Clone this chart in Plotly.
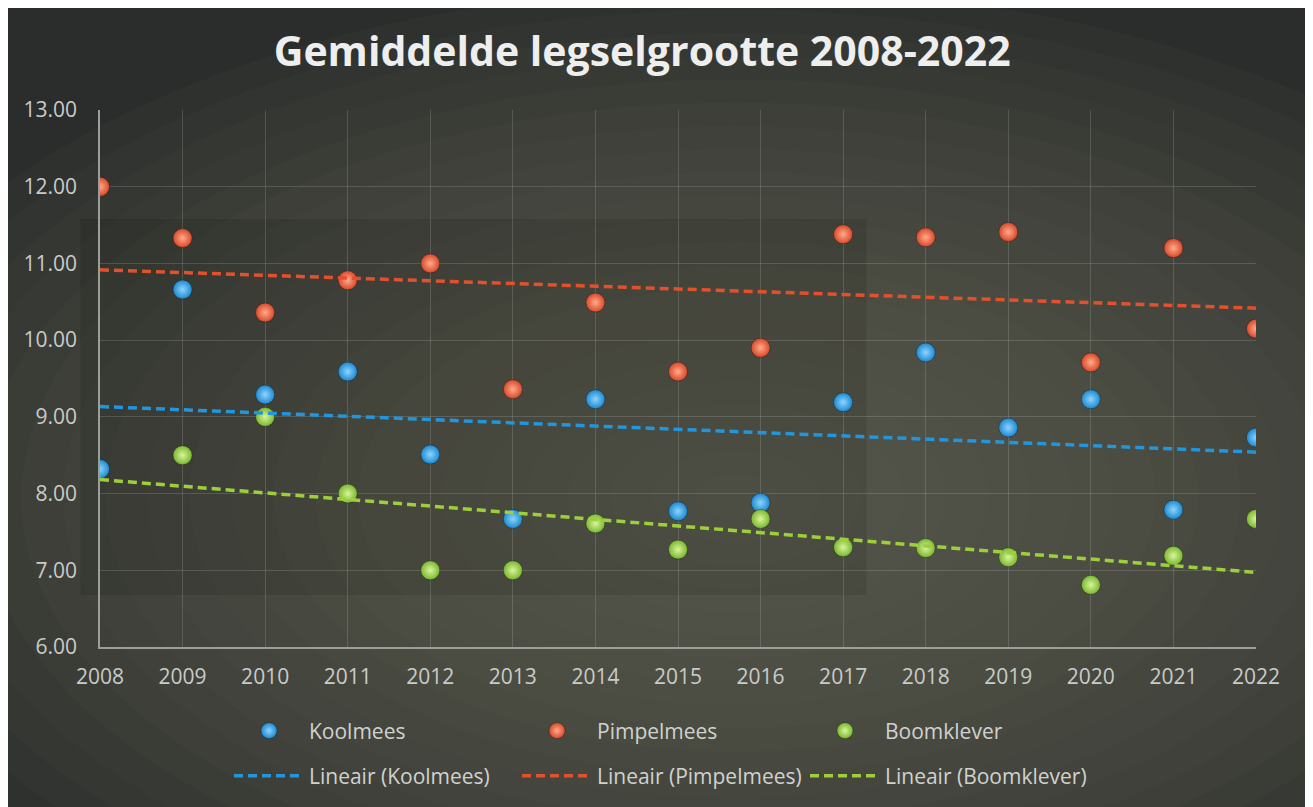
import numpy as np
import plotly.graph_objects as go

years = list(range(2008, 2023))
koolmees = [8.32, 10.66, 9.29, 9.59, 8.51, 7.67, 9.23, 7.77, 7.88, 9.19, 9.84, 8.86, 9.23, 7.79, 8.73]
pimpelmees = [12.00, 11.33, 10.36, 10.78, 11.00, 9.36, 10.49, 9.59, 9.90, 11.38, 11.34, 11.41, 9.71, 11.20, 10.15]
boomklever = [None, 8.50, 9.00, 8.00, 7.00, 7.00, 7.61, 7.27, 7.67, 7.30, 7.29, 7.17, 6.81, 7.19, 7.67]

series = [
    ("Koolmees", koolmees, "#1b8ad0", "#8fd3ff", "#2196dc"),
    ("Pimpelmees", pimpelmees, "#d8482a", "#ffab8a", "#e2502c"),
    ("Boomklever", boomklever, "#79b72f", "#d9f59a", "#9ccf3a"),
]

fig = go.Figure()

# background decoration: soft radial glow
shapes = []
shapes.append(dict(type="rect", xref="paper", yref="paper", x0=-0.0813, x1=1.0441, y0=-0.32, y1=1.22,
                   fillcolor="#2a2d2b", line=dict(width=0), layer="below"))
n = 22
for i in range(n):
    f = 1 - i / n
    cx, cy = 0.55, 0.28
    rx, ry = 0.80 * f, 0.95 * f
    shapes.append(dict(type="circle", xref="paper", yref="paper",
                       x0=cx - rx, x1=cx + rx, y0=cy - ry, y1=cy + ry,
                       fillcolor="#626a5f", opacity=0.065, line=dict(width=0), layer="below"))
# darker band
shapes.append(dict(type="rect", xref="paper", yref="paper", x0=-0.017, x1=0.663, y0=0.097, y1=0.797,
                   fillcolor="black", opacity=0.10, line=dict(width=0), layer="below"))

for name, vals, col, hi, lcol in series:
    fig.add_trace(go.Scatter(
        x=years, y=vals, mode="markers", name=name, legend="legend",
        marker=dict(size=19, color=col, line=dict(width=0.6, color="rgba(20,20,20,0.6)"),
                    gradient=dict(type="radial", color=hi)),
    ))

for name, vals, col, hi, lcol in series:
    xs = np.array([y for y, v in zip(years, vals) if v is not None], dtype=float)
    ys = np.array([v for v in vals if v is not None], dtype=float)
    a, b = np.polyfit(xs, ys, 1)
    xt = np.array(years, dtype=float)
    fig.add_trace(go.Scatter(
        x=xt, y=a * xt + b, mode="lines", name=f"Lineair ({name})", legend="legend2",
        line=dict(color=lcol, width=3.5, dash="9px,5px"),
    ))

tickfont = dict(family="Open Sans", size=21, color="#c9cbc8")
grid = "rgba(200,200,200,0.20)"
legfont = dict(family="Open Sans", size=21, color="#d0d2cf")

# page has an 8px body margin: figure origin sits at page (8, 8)
fig.update_layout(
    width=1305, height=799,
    margin=dict(l=92, r=57, t=102, b=159),
    paper_bgcolor="#f2f2f2",
    plot_bgcolor="rgba(0,0,0,0)",
    shapes=shapes,
    title=dict(text="Gemiddelde legselgrootte 2008-2022", x=0.469, xref="paper", xanchor="center",
               y=1 - 44 / 799, yref="container", yanchor="middle",
               font=dict(family="Open Sans", size=41, color="#eeeeee", weight=700)),
    xaxis=dict(range=[2008, 2022], dtick=1, tick0=2008, showgrid=True, gridcolor=grid, gridwidth=1,
               showline=True, linecolor="#9c9e9b", linewidth=1.5, zeroline=False,
               tickfont=tickfont, ticks="", ticklabelstandoff=10),
    yaxis=dict(range=[6, 13], dtick=1, tickformat=".2f", showgrid=True, gridcolor=grid, gridwidth=1,
               showline=True, linecolor="#9c9e9b", linewidth=1.5, zeroline=False,
               tickfont=tickfont, ticks="", ticklabelstandoff=17),
    legend=dict(orientation="h", x=(229 - 100) / 1156, xanchor="left", y=(648 - 731) / 538, yanchor="middle",
                font=legfont, bgcolor="rgba(0,0,0,0)",
                itemwidth=70, entrywidth=203, entrywidthmode="pixels", itemclick=False),
    legend2=dict(orientation="h", x=(229 - 100) / 1156, xanchor="left", y=(648 - 776) / 538, yanchor="middle",
                 font=legfont, bgcolor="rgba(0,0,0,0)",
                 itemwidth=70, entrywidth=203, entrywidthmode="pixels", itemclick=False),
    showlegend=True,
)

fig.write_html("out.html")
